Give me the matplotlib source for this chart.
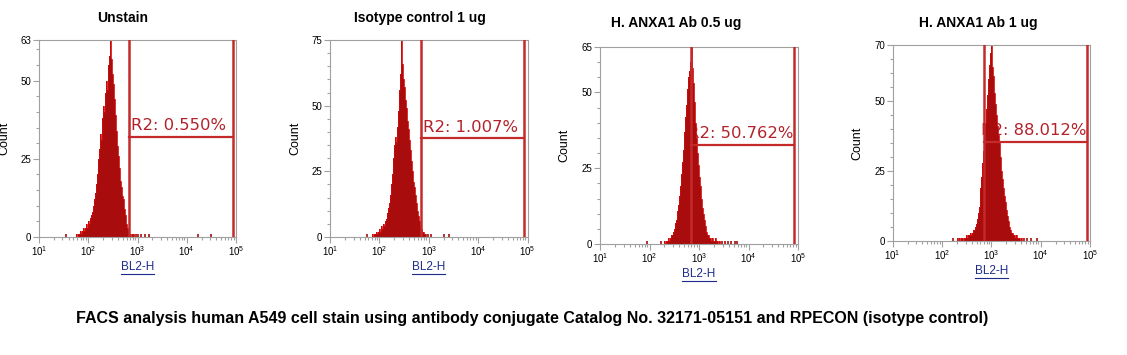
import numpy as np
import matplotlib
matplotlib.use("Agg")
import matplotlib.pyplot as plt
from matplotlib.ticker import FixedLocator, NullFormatter
from matplotlib.transforms import offset_copy

# histogram data: counts per bin, bins are 0.02 decade wide (log10 of BL2-H)
BIN_WIDTH = 0.02

titles = ["Unstain", "Isotype control 1 ug", "H. ANXA1 Ab 0.5 ug", "H. ANXA1 Ab 1 ug"]
y_max = [63, 75, 65, 70]

unstain_start = 1.76
unstain_counts = [1, 0, 1, 1, 2, 1, 2, 3, 2, 3, 4, 3, 5, 4, 6, 7, 8, 10, 12, 14,
                  17, 20, 25, 28, 33, 31, 38, 42, 40, 46, 50, 47, 55, 58, 63, 57, 52, 49, 44, 39,
                  34, 29, 26, 22, 18, 16, 13, 12, 9, 7, 4, 3, 2, 1, 1, 0, 1, 1]
unstain_tail = [1.55, 2.96, 3.02, 3.08, 3.16, 3.24, 4.23, 4.50]

isotype_start = 1.86
isotype_counts = [1, 0, 1, 1, 2, 1, 2, 3, 2, 4, 3, 5, 4, 6, 7, 9, 11, 13, 16, 20,
                  24, 30, 35, 38, 36, 42, 48, 56, 62, 75, 66, 60, 57, 52, 49, 44, 41, 37, 33, 29,
                  25, 21, 19, 16, 13, 10, 8, 6, 4, 3, 2, 2, 1, 1]
isotype_tail = [1.75, 2.98, 3.05, 3.30, 3.42]

ab05_start = 2.30
ab05_counts = [1, 0, 1, 1, 2, 1, 2, 3, 3, 4, 5, 7, 8, 11, 13, 16, 19, 23, 27, 31,
               37, 42, 46, 51, 55, 57, 60, 65, 58, 53, 47, 40, 35, 30, 26, 22, 19, 15, 12, 10,
               8, 6, 4, 3, 3, 2, 2, 1, 2, 1, 1, 2, 1, 1, 0, 1]
ab05_tail = [1.94, 2.24, 3.46, 3.52, 3.58, 3.64, 3.72, 3.76]

ab1_start = 2.30
ab1_counts = [1, 0, 1, 0, 1, 1, 0, 1, 1, 2, 1, 2, 2, 3, 2, 3, 4, 4, 5, 6,
              8, 10, 12, 15, 19, 23, 28, 32, 36, 42, 47, 52, 58, 63, 67, 70, 62, 59, 53, 49,
              45, 41, 38, 35, 30, 25, 22, 19, 16, 14, 11, 9, 7, 5, 4, 3, 3, 2, 2, 1,
              2, 1, 1, 1, 0, 1]
ab1_tail = [2.22, 3.66, 3.72, 3.80, 3.92]

# R2 gate (log10 low/high edge, marker height) and percent inside
gate_lo = [2.83, 2.84, 2.84, 2.85]
gate_hi = [4.94, 4.93, 4.91, 4.94]
gate_y = [32.0, 37.7, 32.7, 35.4]
gate_labels = ["R2: 0.550%", "R2: 1.007%", "R2: 50.762%", "R2: 88.012%"]

caption = ("FACS analysis human A549 cell stain using antibody conjugate "
           "Catalog No. 32171-05151 and RPECON (isotype control)")

starts = [unstain_start, isotype_start, ab05_start, ab1_start]
counts = [unstain_counts, isotype_counts, ab05_counts, ab1_counts]
tails = [unstain_tail, isotype_tail, ab05_tail, ab1_tail]

W, H = 1127, 355
fig = plt.figure(figsize=(W / 100, H / 100), dpi=100)
fig.patch.set_facecolor("white")

# axes boxes in pixels: left, top, right, bottom
boxes = [(39, 40, 236, 237), (330, 40, 527.5, 237),
         (600, 47, 798, 244), (892.7, 45, 1090, 241)]
title_pos = [(123, 18), (420, 18), (676, 23), (978, 23)]
label_dx = [1.5, 1.5, -2.0, -2.0]  # points, gate label shift

GRAY = "#a0a0a0"
HIST_FILL = "#a80c0c"
HIST_EDGE = "#d40a0a"
GATE = "#c42a2a"

for i in range(4):
    l, t, r, b = boxes[i]
    ax = fig.add_axes([l / W, 1 - b / H, (r - l) / W, (b - t) / H])
    ax.set_xscale("log")
    ax.set_xlim(10, 1e5)
    ax.set_ylim(0, y_max[i])

    n = len(counts[i])
    edges = 10 ** (starts[i] + BIN_WIDTH * np.arange(n + 1))
    ax.stairs(counts[i], edges, fill=True, color=HIST_FILL, zorder=2)
    ax.stairs(counts[i], edges, color=HIST_EDGE, lw=0.6, zorder=2)
    ax.vlines(10 ** np.array(tails[i]), 0, 1, color=HIST_FILL, lw=1.2, zorder=2)

    # gate marker
    lo, hi = 10 ** gate_lo[i], 10 ** gate_hi[i]
    ax.axvline(lo, color=GATE, lw=1.8, zorder=3)
    ax.axvline(hi, color=GATE, lw=1.8, zorder=3)
    ax.plot([lo, hi], [gate_y[i], gate_y[i]], color=GATE, lw=1.6, zorder=3)
    tr = offset_copy(ax.transData, fig=fig, x=label_dx[i], y=2.5, units="points")
    ax.text(lo, gate_y[i], gate_labels[i], transform=tr, color="#b3222a",
            fontsize=11.8, family="DejaVu Sans", ha="left", va="bottom", zorder=1)

    # ticks
    ax.xaxis.set_major_locator(FixedLocator([10, 100, 1e3, 1e4, 1e5]))
    ax.set_xticklabels([r"$\mathregular{10^{%d}}$" % k for k in range(1, 6)])
    minors = [m * 10 ** k for k in range(1, 5) for m in range(2, 10)]
    ax.xaxis.set_minor_locator(FixedLocator(minors))
    ax.xaxis.set_minor_formatter(NullFormatter())
    ax.yaxis.set_major_locator(FixedLocator([0, 25, 50, y_max[i]]))
    ax.yaxis.set_minor_locator(FixedLocator(list(range(0, y_max[i], 5))))
    ax.tick_params(which="both", direction="out", color=GRAY, labelsize=7,
                   pad=1.5, width=0.8)
    ax.tick_params(which="major", length=4)
    ax.tick_params(which="minor", length=2.5)
    for lab in ax.get_xticklabels() + ax.get_yticklabels():
        lab.set_family("Liberation Sans")
    for s in ax.spines.values():
        s.set_color(GRAY)
        s.set_linewidth(0.8)

    hgt = b - t
    ax.set_ylabel("Count", fontsize=9, family="Liberation Sans")
    ax.yaxis.set_label_coords(-29 / hgt, 0.5)

    # underlined x label
    ax.text(0.5, -30 / hgt, "BL2-H", transform=ax.transAxes, ha="center",
            va="center", fontsize=8.5, color="#1c2a8c", family="Liberation Sans")
    ax.plot([0.5 - 16.5 / hgt, 0.5 + 16.5 / hgt], [-36.5 / hgt, -36.5 / hgt],
            transform=ax.transAxes, color="#1c2a8c", lw=0.8, clip_on=False)

    fig.text(title_pos[i][0] / W, 1 - title_pos[i][1] / H, titles[i],
             ha="center", va="center", fontsize=10, fontweight="bold",
             family="Liberation Sans")

fig.text(76 / W, 1 - 319 / H, caption, ha="left", va="center", fontsize=11.5,
         fontweight="bold", family="Liberation Sans")

fig.savefig("out.png", dpi=100, facecolor="white")
